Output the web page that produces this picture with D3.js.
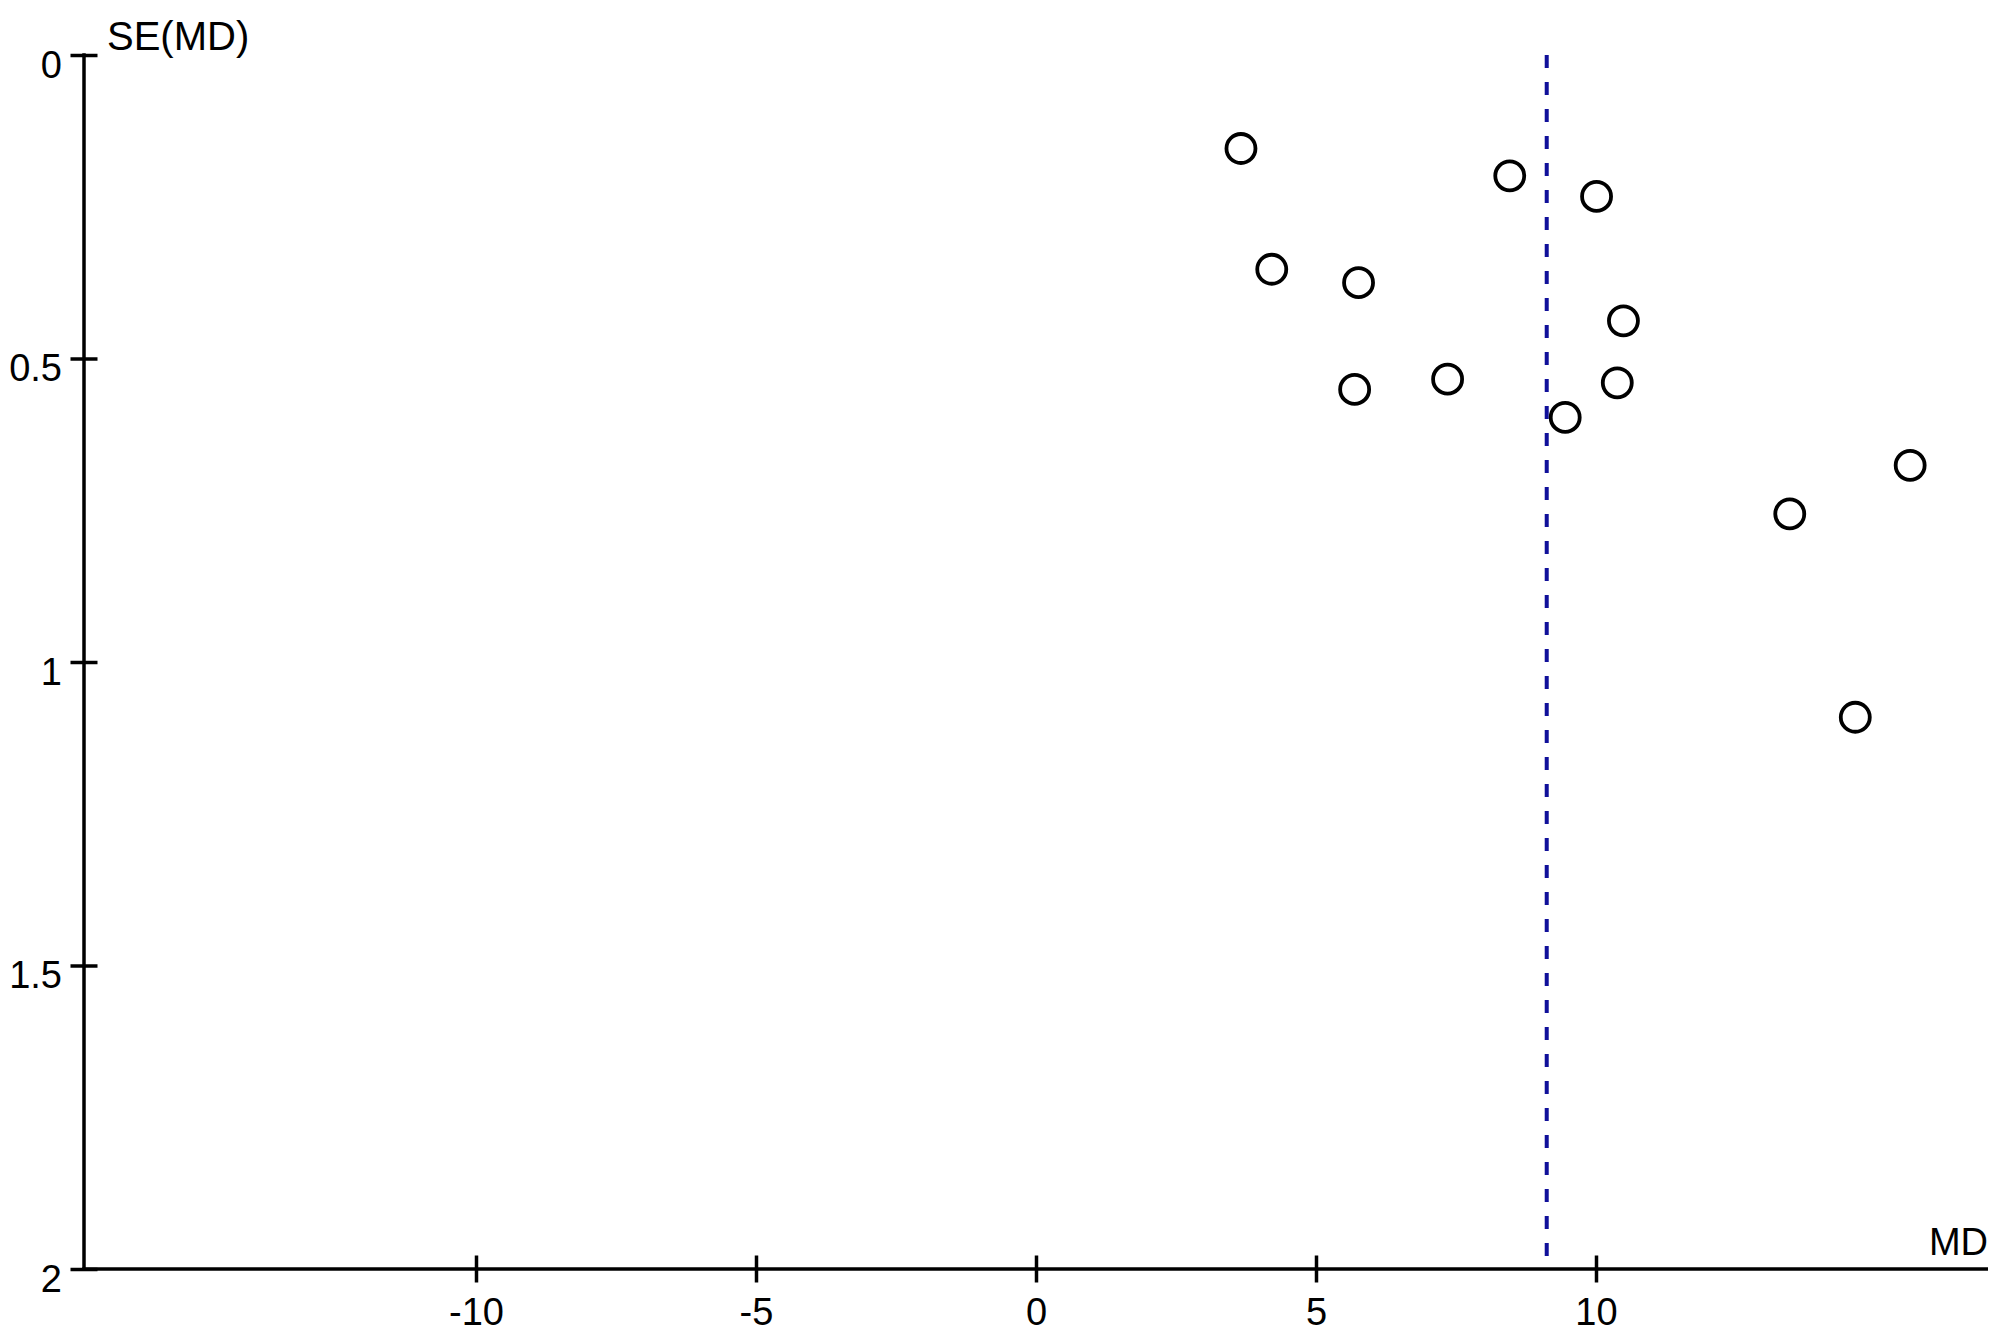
<!DOCTYPE html>
<html>
<head>
<meta charset="utf-8">
<script src="https://cdn.jsdelivr.net/npm/d3@7"></script>
<style>
  html, body { margin: 0; padding: 0; background: #fff; }
  text { font-family: "Liberation Sans", Arial, sans-serif; fill: #000; }
</style>
</head>
<body>
<script>
// Study data: mean difference (MD) and its standard error
const md = [3.66, 8.46, 10.01, 4.21, 5.76, 10.49, 5.69, 7.35, 10.38, 9.45, 15.61, 13.46, 14.63];
const se = [0.154, 0.199, 0.233, 0.353, 0.375, 0.438, 0.551, 0.534, 0.540, 0.597, 0.676, 0.756, 1.091];
const pooledMD = 9.12;
const xTicks = [-10, -5, 0, 5, 10];
const yTicks = [0, 0.5, 1, 1.5, 2];
const xLabel = "MD";
const yLabel = "SE(MD)";

const W = 2000, H = 1335;
const svg = d3.select("body").append("svg").attr("width", W).attr("height", H);

const x = d3.scaleLinear().domain([-17, 17]).range([84, 1988]);
const y = d3.scaleLinear().domain([0, 2]).range([55, 1269]);

const axisW = 3.5;
const tickHalf = 13.5;
const fmt = d => String(d);

// Y axis
const yAxis = svg.append("g").attr("transform", `translate(${x(-17)},0)`)
  .call(d3.axisLeft(y).tickValues(yTicks).tickFormat(fmt).tickSize(0).tickPadding(0));
yAxis.select(".domain").remove();
yAxis.selectAll(".tick line").attr("x1", -tickHalf).attr("x2", tickHalf)
  .attr("stroke", "#000").attr("stroke-width", axisW);
yAxis.selectAll(".tick text").attr("x", 62 - 84).attr("dy", 22)
  .attr("text-anchor", "end").style("font-size", "38px")
  .style("font-family", "'Liberation Sans', Arial, sans-serif");
svg.append("line").attr("x1", x(-17)).attr("x2", x(-17))
  .attr("y1", y(0) - 1.75).attr("y2", y(2) + 1.75)
  .attr("stroke", "#000").attr("stroke-width", axisW);

// X axis
const xAxis = svg.append("g").attr("transform", `translate(0,${y(2)})`)
  .call(d3.axisBottom(x).tickValues(xTicks).tickFormat(fmt).tickSize(0).tickPadding(0));
xAxis.select(".domain").remove();
xAxis.selectAll(".tick line").attr("y1", -tickHalf).attr("y2", tickHalf)
  .attr("stroke", "#000").attr("stroke-width", axisW);
xAxis.selectAll(".tick text").attr("y", 56).attr("dy", 0)
  .attr("text-anchor", "middle").style("font-size", "38px")
  .style("font-family", "'Liberation Sans', Arial, sans-serif");
svg.append("line").attr("x1", x(-17) - 1.75).attr("x2", x(17))
  .attr("y1", y(2)).attr("y2", y(2))
  .attr("stroke", "#000").attr("stroke-width", axisW);

// Axis titles
svg.append("text").attr("x", 107).attr("y", 50).style("font-size", "40px").text(yLabel);
svg.append("text").attr("x", 1988).attr("y", 1255).attr("text-anchor", "end")
  .style("font-size", "38px").text(xLabel);

// Pooled estimate line
svg.append("line").attr("x1", x(pooledMD)).attr("x2", x(pooledMD))
  .attr("y1", y(0)).attr("y2", y(2))
  .attr("stroke", "#10109a").attr("stroke-width", 4)
  .attr("stroke-dasharray", "13,14");

// Study points
svg.append("g").selectAll("circle").data(md.map((m, i) => ({ m, s: se[i] })))
  .join("circle")
  .attr("cx", d => x(d.m)).attr("cy", d => y(d.s)).attr("r", 14.5)
  .attr("fill", "none").attr("stroke", "#000").attr("stroke-width", 3.8);
</script>
</body>
</html>
